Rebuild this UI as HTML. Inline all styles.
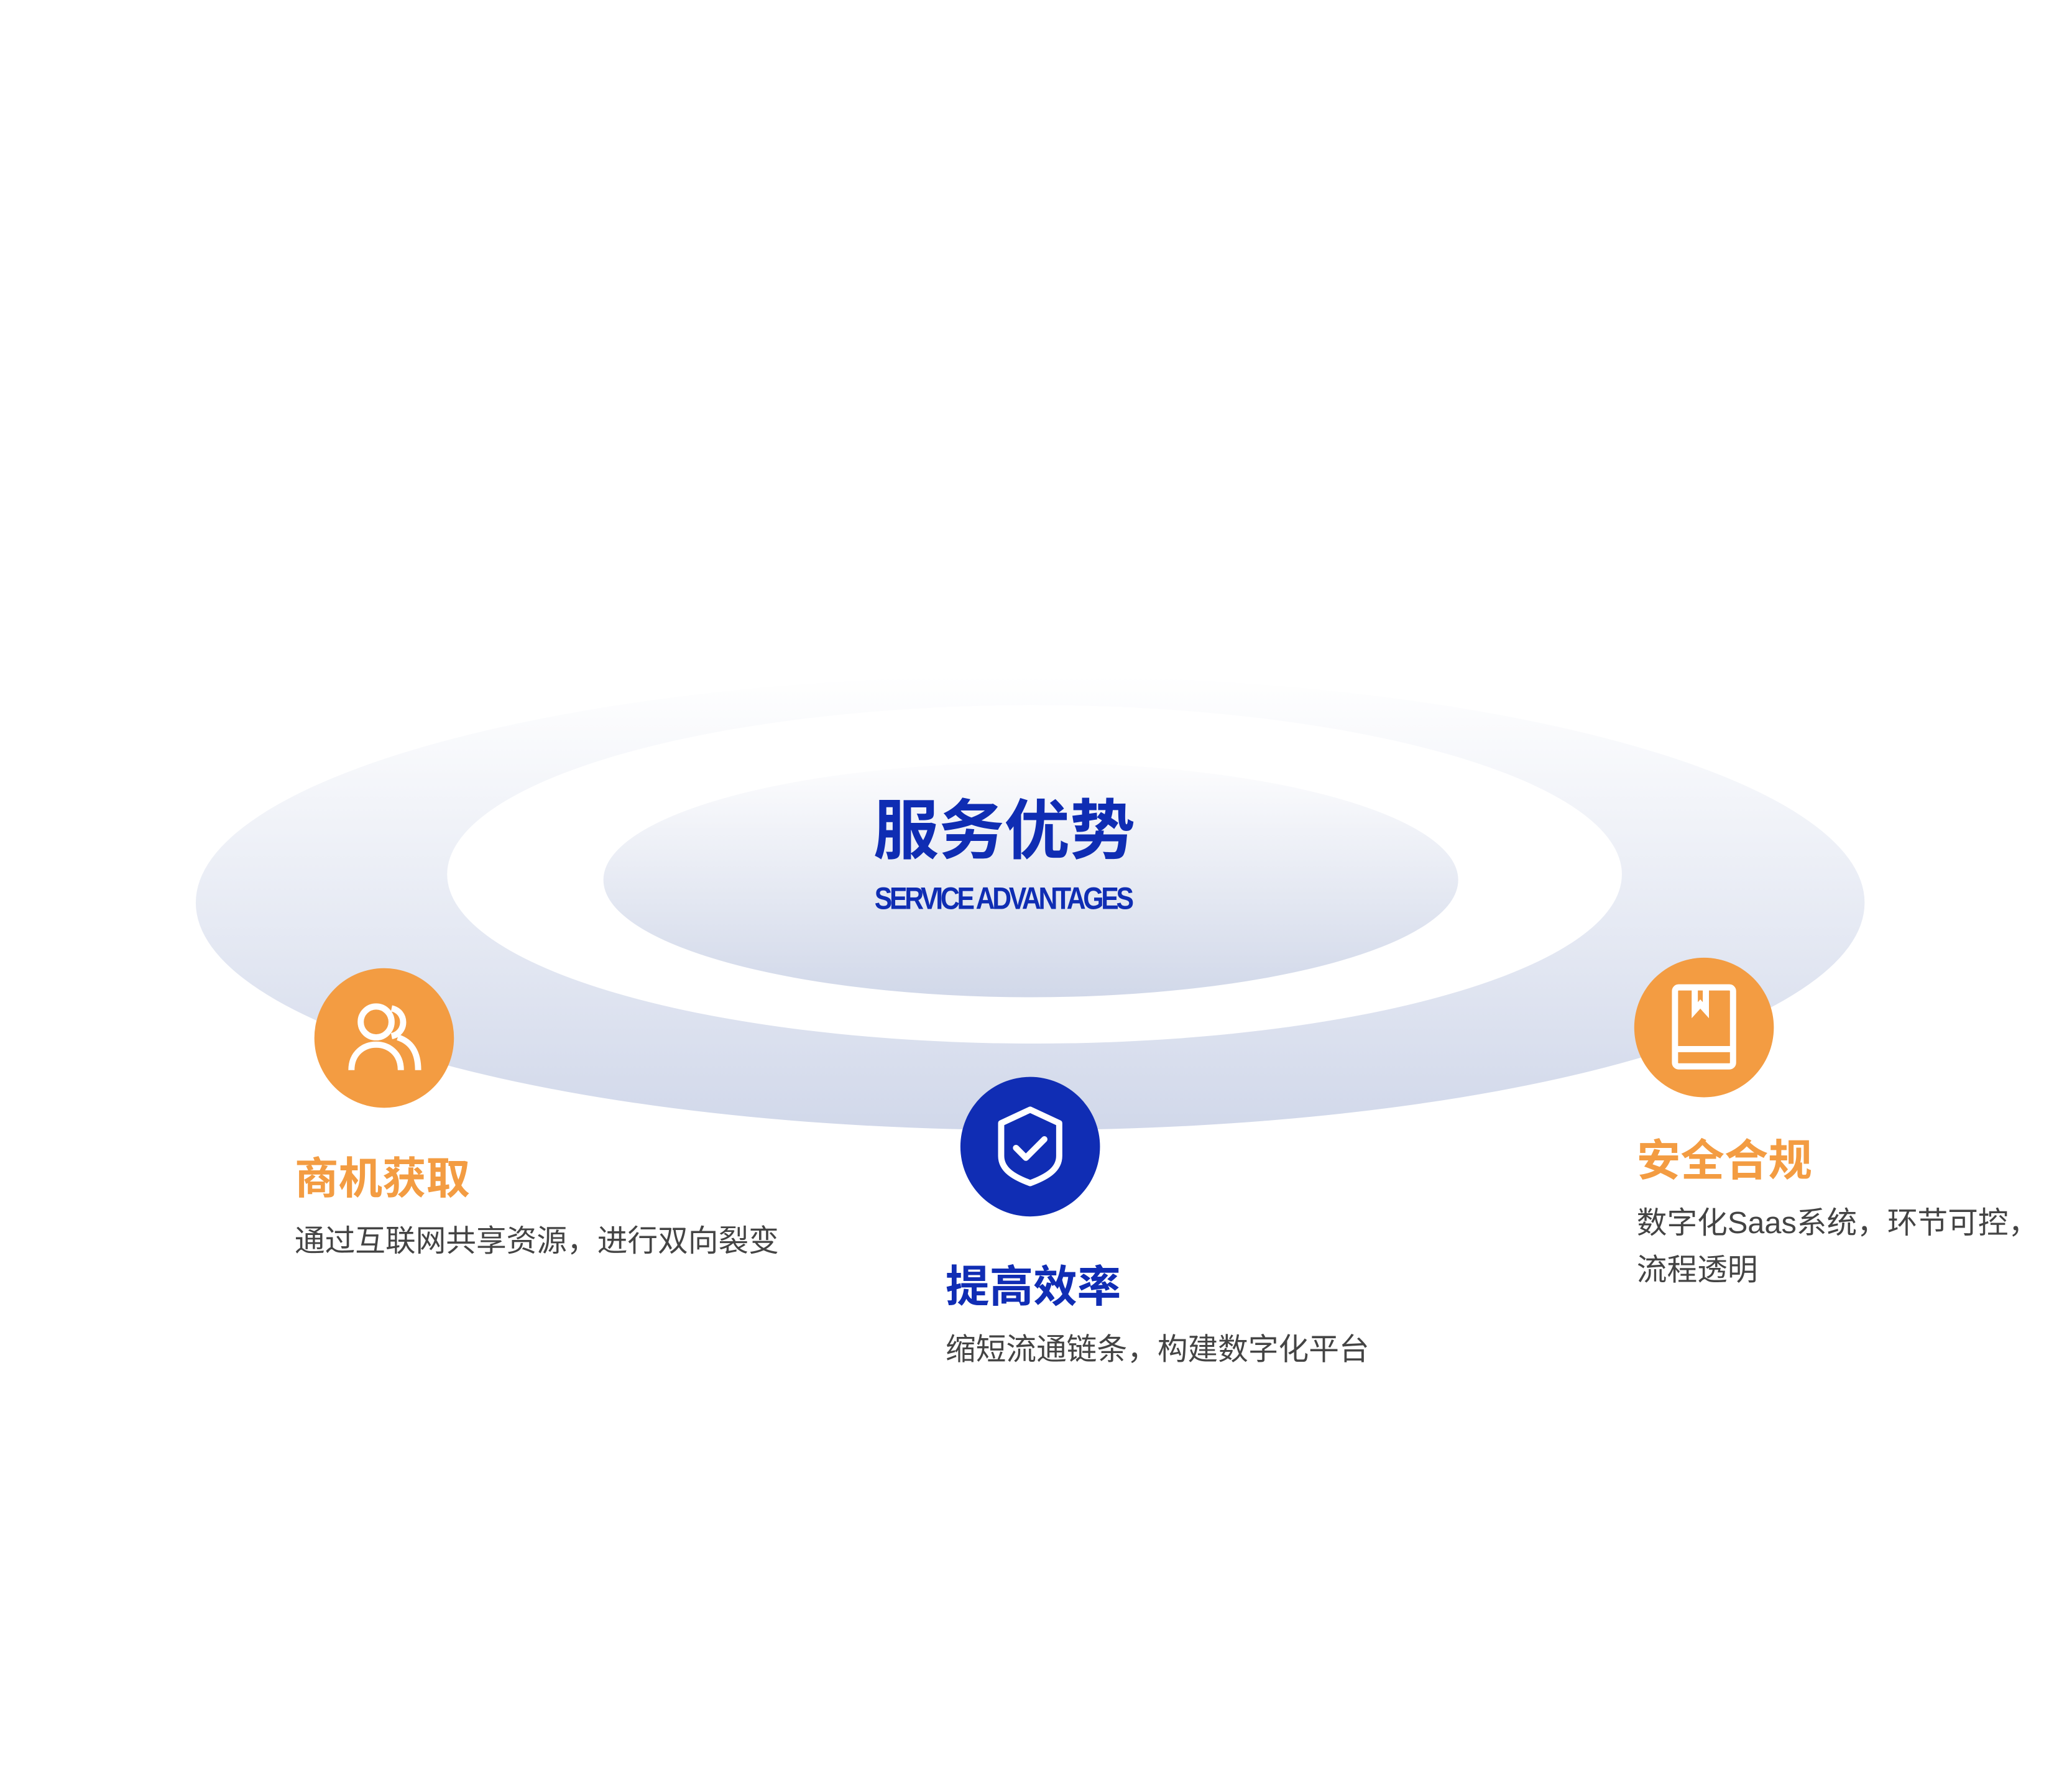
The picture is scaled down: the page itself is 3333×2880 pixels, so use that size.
<!DOCTYPE html>
<html><head><meta charset="utf-8"><style>
html,body{margin:0;padding:0;background:#fff;}
body{width:3333px;height:2880px;position:relative;overflow:hidden;font-family:"Liberation Sans","Noto Sans CJK SC",sans-serif;}
#w{position:absolute;left:0;top:0;width:3333px;height:2880px;transform:scale(0.9935);transform-origin:0 0;}
.t{position:absolute;white-space:nowrap;line-height:1;}
.h{font-size:71px;font-weight:bold;}
.d{font-size:49px;color:#444;}
.c{position:absolute;width:226px;height:226px;border-radius:50%;}
</style></head><body><div id="w">
<svg width="3333" height="2880" style="position:absolute;left:0;top:0">
<defs>
<linearGradient id="g1" x1="0" y1="0" x2="0" y2="1">
<stop offset="0" stop-color="#ffffff"/><stop offset="1" stop-color="#d1d8ea"/></linearGradient>
<linearGradient id="g2" x1="0" y1="0" x2="0" y2="1">
<stop offset="0" stop-color="#fdfdfe"/><stop offset="1" stop-color="#d1d8e9"/></linearGradient>
</defs>
<ellipse cx="1668" cy="1462" rx="1351" ry="368" fill="url(#g1)"/>
<ellipse cx="1675" cy="1416" rx="951" ry="274" fill="#fff"/>
<ellipse cx="1669" cy="1425" rx="692" ry="190" fill="url(#g2)"/>
</svg>
<div class="t" style="left:1414px;top:1293px;font-size:106px;font-weight:bold;color:#0f2db3;">服务优势</div>
<div class="t" style="left:1416px;top:1430px;font-size:50px;font-weight:bold;color:#0f2db3;letter-spacing:-5px;transform:scaleX(0.86);transform-origin:0 0;">SERVICE ADVANTAGES</div>

<div class="c" style="left:509px;top:1568px;background:#f39c42;"></div>
<svg width="226" height="226" style="position:absolute;left:509px;top:1568px" fill="none" stroke="#fff" stroke-width="10">
<circle cx="100" cy="87" r="25"/><path d="M60 165 C60 110 140 110 140 165"/><path d="M125 65 C150 70 150 105 125 110 M135 112 C160 120 168 140 168 165"/></svg>

<div class="c" style="left:1555px;top:1744px;background:#102db4;"></div>
<svg width="226" height="226" style="position:absolute;left:1555px;top:1744px" fill="none" stroke="#fff" stroke-width="10" stroke-linejoin="round" stroke-linecap="round">
<path d="M113 53 L160 75 L160 128 C160 150 140 162 113 172 C86 162 66 150 66 128 L66 75 Z"/><path d="M90 115 L106 131 L136 101"/></svg>

<div class="c" style="left:2646px;top:1551px;background:#f39c42;"></div>
<svg width="226" height="226" style="position:absolute;left:2646px;top:1551px" fill="none" stroke="#fff" stroke-width="10">
<rect x="66" y="48" width="94" height="128" rx="6"/><path d="M66 148 H160"/><path d="M98 48 V85 L107 75 L116 85 V48"/></svg>

<div class="t h" style="left:477px;top:1874px;color:#f39c42;">商机获取</div>
<div class="t d" style="left:477px;top:1986px;">通过互联网共享资源，进行双向裂变</div>
<div class="t h" style="left:1531px;top:2049px;color:#102db4;">提高效率</div>
<div class="t d" style="left:1531px;top:2162px;">缩短流通链条，构建数字化平台</div>
<div class="t h" style="left:2650px;top:1845px;color:#f39c42;">安全合规</div>
<div class="t d" style="left:2650px;top:1957px;">数字化Saas系统，环节可控，</div>
<div class="t d" style="left:2650px;top:2033px;">流程透明</div>
</div></body></html>
